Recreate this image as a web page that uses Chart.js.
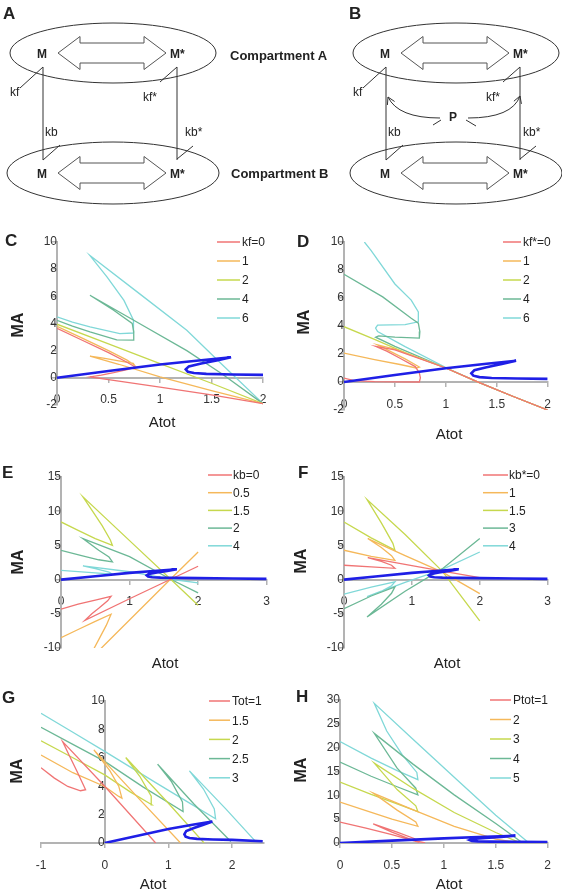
<!DOCTYPE html>
<html>
<head>
<meta charset="utf-8">
<script src="https://cdn.jsdelivr.net/npm/chart.js@4.4.0/dist/chart.umd.min.js"></script>
<style>
  body { margin: 0; background: #fff; width: 562px; height: 895px; position: relative; overflow: hidden; }
  canvas { position: absolute; }
  #art { position: absolute; left: 0; top: 0; pointer-events: none; }
  #art text { font-family: "Liberation Sans", Arial, sans-serif; fill: #222; stroke: none; }
</style>
</head>
<body>
<svg id="art" width="562" height="895">
  <!-- A / B scheme -->
  <g id="scheme" fill="none" stroke="#333" stroke-width="1">
    <ellipse cx="113" cy="53" rx="103" ry="30"/>
    <ellipse cx="113" cy="173" rx="106" ry="31"/>
    <polygon fill="#fff" stroke="#555" points="58,53 80,36.5 80,43 144,43 144,36.5 166,53 144,69.5 144,63 80,63 80,69.5"/>
    <polygon fill="#fff" stroke="#555" points="58,173 80,156.5 80,163 144,163 144,156.5 166,173 144,189.5 144,183 80,183 80,189.5"/>
    <line x1="43" y1="67" x2="43" y2="160"/>
    <line x1="177" y1="67" x2="177" y2="160"/>
    <line x1="20" y1="88" x2="43" y2="67"/>
    <line x1="43" y1="160" x2="60" y2="145"/>
    <line x1="177" y1="67" x2="160" y2="82"/>
    <line x1="177" y1="159" x2="193" y2="146"/>
    <text x="42" y="58" text-anchor="middle" font-size="12" font-weight="bold">M</text>
    <text x="170" y="58" font-size="12" font-weight="bold">M*</text>
    <text x="42" y="178" text-anchor="middle" font-size="12" font-weight="bold">M</text>
    <text x="170" y="178" font-size="12" font-weight="bold">M*</text>
    <text x="10" y="96" font-size="12">kf</text>
    <text x="143" y="101" font-size="12">kf*</text>
    <text x="45" y="136" font-size="12">kb</text>
  </g>
  <use href="#scheme" transform="translate(343,0)"/>
  <text x="185" y="136" font-size="12">kb*</text>
  <text x="523" y="136" font-size="12">kb*</text>
  <text x="3" y="19" font-size="17" font-weight="bold">A</text>
  <text x="349" y="19" font-size="17" font-weight="bold">B</text>
  <text x="230" y="60" font-size="13" font-weight="bold">Compartment A</text>
  <text x="231" y="178" font-size="13" font-weight="bold">Compartment B</text>
  <text x="453" y="121" text-anchor="middle" font-size="12" font-weight="bold">P</text>
  <g fill="none" stroke="#333" stroke-width="1">
    <path d="M 440 118 Q 398 118 388 97"/>
    <line x1="388" y1="97" x2="387.4" y2="105"/>
    <line x1="388" y1="97" x2="394.6" y2="101.5"/>
    <path d="M 468 118 Q 512 118 520 96"/>
    <line x1="520" y1="96" x2="513.9" y2="101.2"/>
    <line x1="520" y1="96" x2="521.4" y2="103.9"/>
    <line x1="433" y1="125" x2="441" y2="120"/>
    <line x1="466" y1="120" x2="476" y2="126"/>
  </g>
  <!-- panel letters and axis titles -->
  <g id="titles"></g>
</svg>
<script>
// ---------- data ----------
const seriesColors = ['#f07474', '#f5b85a', '#c6d84e', '#6cb896', '#80d8d8'];

// common bistable curve (blue), Atot vs MA
const blueBase = [[0,0],[0.5,0.5],[1.0,0.98],[1.4,1.3],[1.69,1.52],[1.55,1.28],[1.4,1.05],[1.28,0.84],[1.25,0.62],[1.27,0.45],[1.33,0.35],[1.45,0.29],[1.7,0.25],[2,0.22]];
const blueTailEF = [[2.5,0.15],[3,0.1]];
const blueTailG = [[2.48,0.12]];

// C: kf
const labelsC = ['kf=0', '1', '2', '4', '6'];
const C_kf0 = [[0,3.64],[0.25,2.75],[0.5,1.85],[0.68,1.15],[0.76,0.8],[0.68,0.6],[0.55,0.38],[0.43,0.2],[0.32,0.07],[0.6,-0.25],[1.0,-0.68],[1.5,-1.25],[2,-1.9]];
const C_kf1 = [[0,3.8],[0.25,2.9],[0.5,2.0],[0.68,1.3],[0.75,0.95],[0.74,1.06],[0.6,1.25],[0.45,1.45],[0.32,1.6],[0.6,1.0],[1.0,0.07],[1.5,-0.95],[2,-1.9]];
const C_kf2 = [[0,3.95],[0.5,2.5],[1.0,1.05],[1.5,-0.4],[2,-1.9]];
const C_kf4 = [[0,4.24],[0.15,3.8],[0.32,3.38],[0.58,2.8],[0.745,2.77],[0.745,3.4],[0.73,4.0],[0.55,4.98],[0.42,5.6],[0.32,6.08],[0.8,4.0],[1.26,2.0],[1.6,0.3],[2,-1.9]];
const C_kf6 = [[0,4.49],[0.15,4.1],[0.32,3.75],[0.61,3.26],[0.745,3.3],[0.745,3.6],[0.74,4.24],[0.65,5.7],[0.485,7.43],[0.32,9.0],[0.8,6.2],[1.26,3.5],[1.6,1.0],[2,-1.9]];

// D: kf*
const labelsD = ['kf*=0', '1', '2', '4', '6'];
const D_kf0 = [[0,0.28],[0.1,0.1],[0.3,0.02],[0.74,0],[0.75,0.3],[0.74,0.65],[0.7,1.1],[0.55,1.7],[0.42,2.2],[0.31,2.55],[0.5,2.3],[1.0,1.0],[1.3,0.05],[1.65,-1.0],[2,-2]];
const D_kf1 = [[0,2.06],[0.3,1.6],[0.55,1.25],[0.71,1.0],[0.74,1.07],[0.6,1.65],[0.45,2.2],[0.33,2.65],[0.5,2.35],[1.0,1.0],[1.3,0.05],[1.65,-1.0],[2,-2]];
const D_kf2 = [[0,3.95],[0.3,3.05],[0.6,2.1],[1.0,1.0],[1.3,0.05],[1.65,-1.0],[2,-2]];
const D_kf4 = [[0,7.7],[0.38,6.08],[0.66,4.55],[0.73,4.2],[0.745,3.6],[0.74,3.13],[0.5,3.2],[0.34,3.3],[0.31,3.2],[0.5,2.55],[1.0,1.0],[1.3,0.05],[1.65,-1.0],[2,-2]];
const D_kf6 = [[0.2,10],[0.265,9.4],[0.5,7.0],[0.66,5.85],[0.73,5.0],[0.73,4.3],[0.6,4.1],[0.33,4.07],[0.31,3.85],[0.33,3.6],[0.6,2.53],[1.01,1.0],[1.3,0.05],[1.65,-1.0],[2,-2]];

// E: kb
const labelsE = ['kb=0', '0.5', '1.5', '2', '4'];
const E_kb0 = [[0,-4.33],[0.25,-3.6],[0.5,-3.0],[0.73,-2.44],[0.68,-3.1],[0.55,-4.2],[0.45,-5.0],[0.35,-5.94],[1.0,-2.8],[1.6,0.05],[2,1.95]];
const E_kb05 = [[0,-8.5],[0.25,-7.3],[0.5,-6.1],[0.73,-5.07],[0.66,-6.7],[0.56,-8.6],[0.48,-10.1],[0.44,-11.2],[0.59,-10],[1.3,-2.9],[1.6,0.1],[2,4.04]];
const E_kb15 = [[0,8.43],[0.25,7.2],[0.5,6.0],[0.75,5.0],[0.72,5.8],[0.6,7.9],[0.46,10.0],[0.32,12.1],[1.0,5.7],[1.6,0.05],[2,-3.75]];
const E_kb2 = [[0,4.29],[0.3,3.5],[0.55,2.9],[0.75,2.58],[0.7,3.3],[0.55,4.3],[0.32,6.0],[1.0,3.35],[1.6,0.05],[2,-1.95]];
const E_kb4 = [[0,1.36],[0.4,1.05],[0.75,0.78],[0.7,1.1],[0.5,1.6],[0.32,2.0],[1.0,1.15],[1.6,0.05],[2,-0.49]];

// F: kb*
const labelsF = ['kb*=0', '1', '1.5', '3', '4'];
const F_kbs0 = [[0,2.1],[0.4,1.85],[0.75,1.65],[0.7,2.1],[0.55,2.65],[0.35,3.2],[1.0,2.05],[1.45,1.25],[2,0.3]];
const F_kbs1 = [[0,4.29],[0.4,3.4],[0.75,2.8],[0.7,3.5],[0.55,4.7],[0.35,6.0],[0.9,3.5],[1.45,1.1],[2,-2.05]];
const F_kbs15 = [[0,8.43],[0.4,6.1],[0.75,4.3],[0.72,5.3],[0.55,8.3],[0.34,11.7],[0.9,6.6],[1.45,1.2],[2,-6.04]];
const F_kbs3 = [[0,-4.24],[0.4,-2.4],[0.75,-1.07],[0.7,-2.0],[0.55,-3.6],[0.34,-5.45],[0.9,-1.7],[1.45,1.6],[2,6.0]];
const F_kbs4 = [[0,-2.14],[0.4,-1.1],[0.75,-0.34],[0.7,-0.9],[0.55,-1.7],[0.34,-2.5],[0.9,-0.4],[1.45,1.5],[2,4.04]];

// G: Tot
const labelsG = ['Tot=1', '1.5', '2', '2.5', '3'];
const G_t1 = [[-1,5.3],[-0.79,4.57],[-0.58,3.98],[-0.38,3.68],[-0.3,3.75],[-0.43,5.0],[-0.56,6.2],[-0.66,7.14],[0,4.0],[0.8,0]];
const G_t15 = [[-1,6.2],[-0.5,4.95],[0,3.98],[0.22,3.28],[0.27,3.16],[0.22,4.0],[0.08,5.1],[-0.17,6.56],[0.5,3.3],[1.19,0]];
const G_t2 = [[-1,7.2],[-0.5,6.0],[0,4.8],[0.4,3.6],[0.74,2.69],[0.73,3.3],[0.55,4.7],[0.33,6.02],[1.0,2.8],[1.56,0]];
const G_t25 = [[-1,8.15],[-0.5,6.95],[0,5.75],[0.6,3.95],[1.23,2.22],[1.22,2.9],[1.05,4.3],[0.83,5.55],[1.4,2.75],[1.98,0.1]];
const G_t3 = [[-1,9.13],[-0.5,7.8],[0,6.45],[0.8,4.25],[1.3,2.9],[1.74,1.71],[1.72,2.4],[1.55,3.8],[1.33,5.08],[1.9,2.4],[2.37,0.1]];

// H: Ptot
const labelsH = ['Ptot=1', '2', '3', '4', '5'];
const H_p1 = [[0,4.4],[0.25,3.1],[0.5,1.75],[0.68,0.65],[0.75,0.2],[0.72,0.9],[0.55,2.3],[0.32,4.0],[0.5,2.3],[0.7,0.6],[0.82,0]];
const H_p2 = [[0,8.58],[0.25,6.8],[0.5,5.0],[0.75,3.5],[0.73,4.4],[0.55,6.9],[0.32,10.47],[0.7,7.0],[1.1,3.5],[1.5,0.8],[1.7,0.15]];
const H_p3 = [[0,12.77],[0.3,10.2],[0.55,8.2],[0.75,6.6],[0.73,7.8],[0.55,11.2],[0.33,16.75],[0.7,11.5],[1.1,6.4],[1.5,2.2],[1.72,0.2]];
const H_p4 = [[0,16.96],[0.3,14.0],[0.55,11.8],[0.75,10.1],[0.73,11.5],[0.55,15.7],[0.33,23.0],[0.7,16.6],[1.1,10.1],[1.5,4.1],[1.76,0]];
const H_p5 = [[0,21.3],[0.3,17.8],[0.55,15.2],[0.75,13.3],[0.74,14.8],[0.6,18.5],[0.45,23.5],[0.33,29.3],[0.7,21.8],[1.1,13.8],[1.5,5.8],[1.82,0]];

// axis ranges [min, max, step]
const xRangeCD = [0, 2, 0.5], yRangeCD = [-2, 10, 2];
const xRangeEF = [0, 3, 1], yRangeEF = [-10, 15, 5];
const xRangeG = [-1, 2.5, 1], yRangeG = [0, 10, 2];
const xRangeH = [0, 2, 0.5], yRangeH = [0, 30, 5];

// ---------- layout (page pixels) ----------
const panels = [
  { letter: 'C', box: [0, 225, 281, 215], area: [57, 242, 263, 405], xr: xRangeCD, yr: yRangeCD,
    series: [C_kf0, C_kf1, C_kf2, C_kf4, C_kf6], labels: labelsC, blue: blueBase,
    legend: { x1: 217, x2: 240, tx: 242, y0: 242, dy: 19 },
    letterPos: [5, 246], xTitle: [162, 427], yTitle: [23, 325] },
  { letter: 'D', box: [281, 225, 281, 215], area: [344, 242, 553, 410], xr: xRangeCD, yr: yRangeCD,
    series: [D_kf0, D_kf1, D_kf2, D_kf4, D_kf6], labels: labelsD, blue: blueBase,
    legend: { x1: 503, x2: 521, tx: 523, y0: 242, dy: 19 },
    letterPos: [297, 247], xTitle: [449, 439], yTitle: [309, 322] },
  { letter: 'E', box: [0, 445, 281, 225], area: [61, 477, 269, 648], xr: xRangeEF, yr: yRangeEF,
    series: [E_kb0, E_kb05, E_kb15, E_kb2, E_kb4], labels: labelsE, blue: blueBase.concat(blueTailEF),
    legend: { x1: 208, x2: 232, tx: 233, y0: 475, dy: 17.7 },
    letterPos: [2, 478], xTitle: [165, 668], yTitle: [23, 562] },
  { letter: 'F', box: [281, 445, 281, 225], area: [344, 477, 552, 648], xr: xRangeEF, yr: yRangeEF,
    series: [F_kbs0, F_kbs1, F_kbs15, F_kbs3, F_kbs4], labels: labelsF, blue: blueBase.concat(blueTailEF),
    legend: { x1: 483, x2: 508, tx: 509, y0: 475, dy: 17.7 },
    letterPos: [298, 478], xTitle: [447, 668], yTitle: [306, 561] },
  { letter: 'G', box: [0, 670, 281, 225], area: [41, 701, 264, 843], xr: xRangeG, yr: yRangeG,
    series: [G_t1, G_t15, G_t2, G_t25, G_t3], labels: labelsG, blue: blueBase.concat(blueTailG),
    legend: { x1: 209, x2: 230, tx: 232, y0: 701, dy: 19.2 },
    letterPos: [2, 703], xTitle: [153, 889], yTitle: [22, 771] },
  { letter: 'H', box: [281, 670, 281, 225], area: [340, 700, 548, 843], xr: xRangeH, yr: yRangeH,
    series: [H_p1, H_p2, H_p3, H_p4, H_p5], labels: labelsH, blue: blueBase,
    legend: { x1: 490, x2: 511, tx: 513, y0: 700, dy: 19.5 },
    letterPos: [296, 702], xTitle: [449, 889], yTitle: [306, 770] }
];

Chart.defaults.font.family = '"Liberation Sans", Arial, sans-serif';
Chart.defaults.font.size = 12;
Chart.defaults.color = '#333';

const axisGray = '#b3b3b3';

function makeLegend(p) {
  return {
    id: 'panelLegend' + p.letter,
    afterDraw(chart) {
      const ctx = chart.ctx;
      const ox = p.box[0], oy = p.box[1];
      ctx.save();
      ctx.font = '12px "Liberation Sans", Arial, sans-serif';
      ctx.textBaseline = 'middle';
      p.labels.forEach((text, i) => {
        const y = p.legend.y0 + i * p.legend.dy - oy;
        ctx.strokeStyle = seriesColors[i];
        ctx.lineWidth = 1.5;
        ctx.beginPath();
        ctx.moveTo(p.legend.x1 - ox, y);
        ctx.lineTo(p.legend.x2 - ox, y);
        ctx.stroke();
        ctx.fillStyle = '#222';
        ctx.fillText(text, p.legend.tx - ox, y + 1);
      });
      ctx.restore();
    }
  };
}

function toPts(arr) {
  return arr.map(([x, y]) => ({ x, y }));
}

const titles = document.getElementById('titles');
const svgNS = 'http://www.w3.org/2000/svg';
function svgText(str, x, y, size, weight, anchor, rotate) {
  const t = document.createElementNS(svgNS, 'text');
  t.setAttribute('x', x);
  t.setAttribute('y', y);
  t.setAttribute('font-size', size);
  if (weight) t.setAttribute('font-weight', weight);
  if (anchor) t.setAttribute('text-anchor', anchor);
  if (rotate) t.setAttribute('transform', `rotate(-90 ${x} ${y})`);
  t.textContent = str;
  titles.appendChild(t);
}

panels.forEach(p => {
  const [bx, by, bw, bh] = p.box;
  const [al, at, ar, ab] = p.area;
  const canvas = document.createElement('canvas');
  canvas.width = bw;
  canvas.height = bh;
  canvas.style.left = bx + 'px';
  canvas.style.top = by + 'px';
  canvas.style.width = bw + 'px';
  canvas.style.height = bh + 'px';
  document.body.insertBefore(canvas, document.getElementById('art'));

  const datasets = [{
    data: toPts(p.blue),
    borderColor: '#1f1fe6',
    borderWidth: 2.6,
    showLine: true,
    pointRadius: 0,
    tension: 0
  }];
  p.series.forEach((s, i) => {
    datasets.push({
      data: toPts(s),
      borderColor: seriesColors[i],
      borderWidth: 1.3,
      showLine: true,
      pointRadius: 0,
      tension: 0
    });
  });

  const axisCommon = {
    border: { display: true, color: axisGray, width: 2 },
    grid: { display: true, drawOnChartArea: false, drawTicks: true, tickLength: 4, color: axisGray, lineWidth: 1.5 }
  };

  new Chart(canvas, {
    type: 'scatter',
    data: { datasets },
    options: {
      responsive: false,
      animation: false,
      events: [],
      layout: { padding: { left: al - bx, top: at - by, right: bx + bw - ar, bottom: by + bh - ab } },
      plugins: { legend: { display: false }, tooltip: { enabled: false } },
      scales: {
        x: Object.assign({
          type: 'linear', position: { y: 0 },
          min: p.xr[0], max: p.xr[1],
          ticks: { stepSize: p.xr[2], padding: 11, autoSkip: false, maxRotation: 0, includeBounds: false, color: '#333',
                   callback: v => String(v) }
        }, axisCommon),
        y: Object.assign({
          type: 'linear', position: { x: 0 },
          min: p.yr[0], max: p.yr[1],
          ticks: { stepSize: p.yr[2], padding: 3, autoSkip: false, color: '#333', callback: v => String(v) }
        }, axisCommon)
      }
    },
    plugins: [makeLegend(p)]
  });

  svgText(p.letter, p.letterPos[0], p.letterPos[1], 17, 'bold');
  svgText('Atot', p.xTitle[0], p.xTitle[1], 15, null, 'middle');
  svgText('MA', p.yTitle[0], p.yTitle[1], 16, 'bold', 'middle', true);
});
</script>
</body>
</html>
